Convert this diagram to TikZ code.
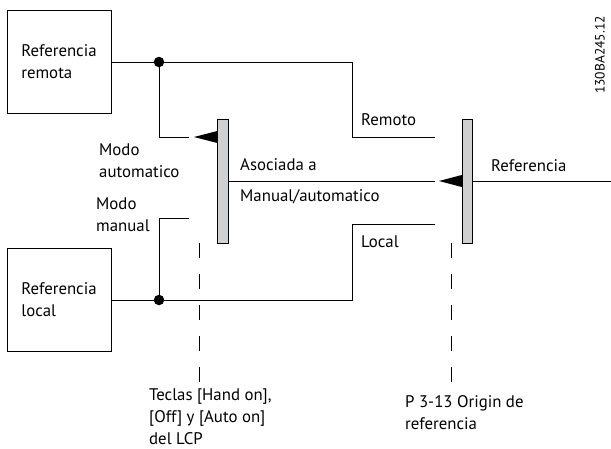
\documentclass[tikz,border=0pt]{standalone}
\usepackage{fontspec}
\setmainfont{PT Sans}
\newcommand\dfont{\fontsize{16.8}{22}\selectfont}
\newcommand\codefont{\fontsize{13.5}{15}\selectfont}
\definecolor{barGray}{RGB}{207,208,210}
\begin{document}
\begin{tikzpicture}[x=1pt,y=-1pt,
  box/.style={draw, line width=0.9pt, minimum width=104pt, minimum height=103pt, align=left, inner sep=0pt, font=\dfont},
  lbl/.style={anchor=west, inner sep=0pt, align=left, font=\dfont},
  swbar/.style={draw, fill=barGray, line width=1pt, minimum width=10.5pt, minimum height=124pt, inner sep=0pt},
  junction/.style={circle, fill=black, minimum size=10.5pt, inner sep=0pt},
  wire/.style={line width=1pt},
  dashline/.style={line width=1pt, dash pattern=on 15pt off 16pt},
  contact/.style={fill=black}]
\useasboundingbox (0,0) rectangle (611,448);

% source boxes
\node[box] (remote) at (59,62) {Referencia\\remota};
\node[box] (local) at (59,299.5) {Referencia\\local};

% junction dots
\node[junction] (d1) at (159,62) {};
\node[junction] (d2) at (159,300) {};

% switch bars
\node[swbar] (sw1) at (223,181) {};
\node[swbar] (sw2) at (467.5,181) {};

% free ends
\coordinate (autoend) at (189,137);
\coordinate (manend) at (189,218);
\coordinate (remend) at (435,137);
\coordinate (locend) at (435,224);
\coordinate (midend) at (435,181);
\coordinate (refout) at (611,181);
\coordinate (rc1) at (352,62);
\coordinate (rc2) at (352,137);
\coordinate (lc1) at (352,300);
\coordinate (lc2) at (352,224);

% wires
\draw[wire] (remote.east) -- (d1) -- (rc1) -- (rc2) -- (remend);
\draw[wire] (d1) |- (autoend);
\draw[wire] (local.east |- d2) -- (d2) -- (lc1) -- (lc2) -- (locend);
\draw[wire] (d2) |- (manend);
\draw[wire] (sw1.east) -- (midend);
\draw[wire] (sw2.east) -- (refout);

% contacts (arrow heads)
\fill[contact] (sw1.west |- 0,131) -- (194,137) -- (sw1.west |- 0,143) -- cycle;
\fill[contact] (sw2.west |- 0,175) -- (439,181) -- (sw2.west |- 0,187) -- cycle;

% dashed lines
\coordinate (k1top) at (199,243);
\coordinate (k1bot) at (199,382);
\coordinate (k2top) at (451,243);
\coordinate (k2bot) at (451,382);
\draw[dashline] (k1top) -- (k1bot);
\draw[dashline] (k2top) -- (k2bot);

% labels
\node[lbl] (lauto) at (99,161) {Modo\\automatico};
\node[lbl] (lman) at (96,215) {Modo\\manual};
\node[lbl] (lrem) at (361,120) {Remoto};
\node[lbl] (lloc) at (361,242) {Local};
\node[lbl] (lasoc) at (240,181.5) {Asociada a\\[9pt]Manual/automatico};
\node[lbl] (lref) at (491,166) {Referencia};
\node[lbl] (lkeys) at (149,416.5) {Teclas [Hand on],\\{}[Off] y [Auto on]\\del LCP};
\node[lbl] (lorig) at (405,413) {P 3-13 Origin de\\referencia};
\node[rotate=90, font=\codefont, inner sep=0pt] (code) at (600,55) {130BA245.12};
\end{tikzpicture}
\end{document}
